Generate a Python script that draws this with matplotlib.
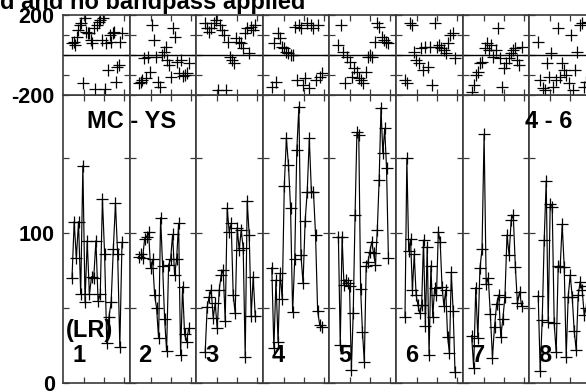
import matplotlib
matplotlib.use("Agg")
import matplotlib.pyplot as plt
import numpy as np

plt.rcParams['font.family'] = ['Liberation Sans', 'DejaVu Sans']
plt.rcParams['font.weight'] = 'bold'
plt.rcParams['axes.unicode_minus'] = False

title_text = "d and no bandpass applied"
panel_labels = ["1", "2", "3", "4", "5", "6", "7", "8"]
baseline_label = "MC - YS"
baseline_label2 = "4 - 6"
pol_label = "(LR)"

amp1 = [69.8, 107.6, 83.1, 107.6, 59.1, 144.9, 54.2, 94.9, 59.1, 70.9, 70.2, 94.9,
        54.7, 59.1, 122.7, 85.8, 26.4, 44.2, 53.8, 89.3, 119.8, 85.8, 24.2, 93.8]
amp2 = [84.2, 85.8, 83.1, 96.0, 97.6, 100.4, 76.4, 82.4, 58.7, 49.8, 29.8, 110.2, 78.2,
        42.7, 21.3, 78.7, 82.4, 99.1, 72.0, 82.4, 106.4, 18.7, 64.2, 32.4, 27.6, 36.4]
amp3 = [20.9, 50.9, 57.6, 62.0, 43.6, 53.1, 36.4, 62.0, 72.0, 75.3, 41.3, 116.4, 100.9,
        106.4, 58.7, 46.4, 103.6, 88.7, 102.0, 89.8, 17.6, 121.3, 98.7, 44.9, 70.9, 44.9]
amp4 = [76.9, 23.1, 68.7, 27.6, 73.1, 56.0, 131.6, 163.1, 145.3, 116.9, 47.1, 82.7,
        155.3, 184.2, 85.3, 66.4, 108.0, 127.6, 163.1, 127.6, 127.6, 98.7, 48.0, 38.7, 37.6]
amp5 = [97.6, 25.3, 97.6, 65.3, 68.7, 66.4, 64.9, 8.7, 46.4, 112.0, 167.1, 165.3, 62.7, 33.8,
        14.2, 78.2, 80.9, 87.6, 94.2, 86.4, 78.7, 102.0, 135.3, 183.6, 153.1, 169.8, 143.1, 83.6]
amp6 = [44.2, 149.8, 88.0, 96.0, 62.0, 85.8, 58.7, 52.0, 46.4, 52.0, 95.3, 38.2, 90.9, 18.7,
        78.2, 44.2, 63.6, 58.7, 100.9, 94.2, 64.2, 51.6, 62.0, 30.9, 19.8, 73.8, 48.0, 7.6]
amp7 = [31.6, 10.2, 63.6, 30.2, 76.4, 89.3, 165.8, 65.8, 70.2, 45.8, 16.9, 37.6, 52.4,
        58.7, 30.9, 42.7, 57.6, 98.7, 85.3, 108.7, 112.0, 77.6, 53.1, 60.9, 51.6]
amp8 = [58.2, 8.0, 42.0, 95.3, 134.7, 40.4, 119.1, 117.6, 39.8, 20.4, 78.2, 77.6, 105.8,
        77.6, 17.6, 57.6, 72.0, 57.6, 34.7, 22.0, 58.7, 67.6, 62.0, 45.3, 50.0, 65.0]

ph1 = [58, 67, 50, 92, 125, 150, 158, -138, 183, 117, 108, 108, 75, 58, 133, -172, 150,
       167, 175, 75, 183, -172, 58, -75, 100, 67, 108, 117, -133, -58, -50, 67, 108]
ph2 = [-142, -133, -125, -17, -117, -8, -83, 150, 75, -8, -133, -158, 0, 17, 42, -25, -50,
       -108, 133, 92, -33, -92, -25, -105, -100, -92, -42]
ph3 = [158, 133, 117, 133, 158, 175, -175, 150, 125, 100, -175, 67, -8, -25, -42, 83, 67,
       58, 33, 108, 133, 8, 142, 125, 150]
ph4 = [-158, 58, -133, 108, 83, 42, 33, 17, 8, 0, 0, 142, -125, 150, 133, -150, -117, 158,
       -167, 150, 133, -125, 150, -108, -92]
ph5 = [50, 150, 17, -142, -8, -33, -108, -67, -83, -117, -125, -142, -83, -8, 0, -8, 67,
       158, 142, 92, 75, 67, 58]
ph6 = [-125, -142, 158, 150, 17, -25, -42, 33, -75, 42, -58, 42, -150, 158, 42, 50, 33,
       25, 8, 58, 100, 108, -17]
ph7 = [-183, -150, -100, -83, -42, -33, 33, 58, 25, 50, -8, 25, 133, -17, -158, -67, -42,
       -17, 8, 25, 33, -25, -50, 42]
ph8 = [67, -125, -167, -175, -42, -108, 8, -158, -125, 133, -108, -42, -75, -100, -142,
       100, -175, -75, 17, 150, 158, -158, -133, 167]

amps = [amp1, amp2, amp3, amp4, amp5, amp6, amp7, amp8]
phases = [ph1, ph2, ph3, ph4, ph5, ph6, ph7, ph8]

W, H = 586, 392
fig = plt.figure(figsize=(W / 100, H / 100), dpi=100)

left0 = 63
pw = 66.6
spine_col = '#3a3a3a'

for i in range(8):
    x0 = (left0 + i * pw) / W
    axb = fig.add_axes([x0, 9 / H, pw / W, 288 / H])
    axt = fig.add_axes([x0, 297 / H, pw / W, 80 / H])

    a = amps[i]
    xa = np.linspace(0.4, 2.9, len(a))
    axb.plot(xa, a, color='black', lw=0.85, marker='+', ms=8.5, mew=0.9)
    axb.set_ylim(0, 192)
    axb.set_xlim(-0.05, 3.28)
    axb.set_yticks([0, 50, 100, 150])
    axb.set_xticks([1, 2, 3])
    axb.set_xticklabels([])
    if i == 0:
        axb.set_yticklabels(['0', '', '100', ''])
    else:
        axb.set_yticklabels([])

    p = phases[i]
    xp = np.linspace(0.4, 2.9, len(p))
    axt.plot(xp, p, color='black', ls='none', marker='+', ms=8.5, mew=0.9)
    axt.axhline(0, color='black', lw=1.0)
    axt.set_ylim(-200, 200)
    axt.set_xlim(-0.05, 3.28)
    axt.set_yticks([-200, -100, 0, 100, 200])
    axt.set_xticks([1, 2, 3])
    axt.set_xticklabels([])
    if i == 0:
        axt.set_yticklabels(['-200', '', '', '', '200'])
    else:
        axt.set_yticklabels([])

    for ax in (axb, axt):
        ax.tick_params(direction='in', top=True, right=True, length=4, width=0.9,
                       labelsize=15.5, pad=6, colors=spine_col, labelcolor='black')
        for s in ax.spines.values():
            s.set_color(spine_col)
            s.set_linewidth(1.2)
        for lab in ax.get_yticklabels():
            lab.set_fontweight('bold')

    axb.text(9 / pw, (383 - 355) / 288, panel_labels[i], transform=axb.transAxes,
             ha='left', va='center', fontsize=17, fontweight='bold')
    if i == 0:
        axb.text(3 / pw, (383 - 331) / 288, pol_label, transform=axb.transAxes,
                 ha='left', va='center', fontsize=17, fontweight='bold')

fig.text(87 / W, 1 - 121 / H, baseline_label, ha='left', va='center',
         fontsize=17, fontweight='bold')
fig.text(525 / W, 1 - 122 / H, baseline_label2, ha='left', va='center',
         fontsize=17, fontweight='bold')
fig.text(305 / W, 1 - 9 / H, title_text, ha='right', va='baseline',
         fontsize=17, fontweight='bold')

fig.savefig('out.png', dpi=100)
